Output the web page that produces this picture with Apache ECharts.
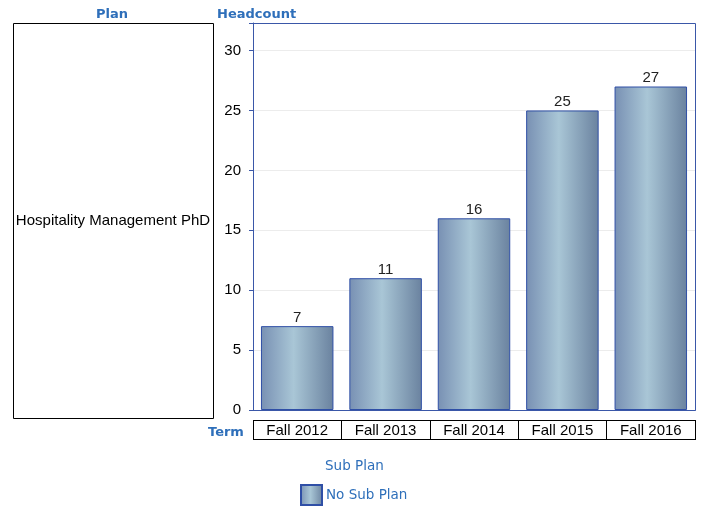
<!DOCTYPE html>
<html><head><meta charset="utf-8">
<script src="https://cdn.jsdelivr.net/npm/echarts@6/dist/echarts.min.js"></script>
<style>html,body{margin:0;padding:0;background:#fff}#c{width:703px;height:508px}</style>
</head><body><div id="c"></div>
<script>
const terms = ['Fall 2012','Fall 2013','Fall 2014','Fall 2015','Fall 2016'];
const headcount = [7, 11, 16, 25, 27];
const planName = 'Hospitality Management PhD';
const seriesName = 'No Sub Plan';

const blue = '#2e6fba';
const axisBlue = '#3a57a8';
const barGrad = new echarts.graphic.LinearGradient(0,0,1,0,[
  {offset:0,color:'#7890b3'},
  {offset:0.45,color:'#a9c6d6'},
  {offset:1,color:'#6a829f'}
]);
const chart = echarts.init(document.getElementById('c'));
chart.setOption({
  animation:false,
  title:[
    {text:'Plan',left:91,top:3,padding:5,textStyle:{fontFamily:'DejaVu Sans',fontSize:13,fontWeight:'bold',color:blue}},
    {text:'Headcount',left:212,top:3,padding:5,textStyle:{fontFamily:'DejaVu Sans',fontSize:13,fontWeight:'bold',color:blue}},
    {text:'Term',left:203,top:421,padding:5,textStyle:{fontFamily:'DejaVu Sans',fontSize:13,fontWeight:'bold',color:blue}},
    {text:'Sub Plan',left:320,top:454,padding:5,textStyle:{fontFamily:'DejaVu Sans',fontSize:13.5,fontWeight:'normal',color:blue}}
  ],
  grid:[
    {left:253,top:23,width:442,height:387,show:false},
    {left:253,top:420,width:442,height:20,show:false}
  ],
  legend:{data:[{name:seriesName,icon:'rect'}],left:300,top:484,padding:0,itemWidth:21,itemHeight:20,itemGap:4,
    textStyle:{fontFamily:'DejaVu Sans',fontSize:13.5,color:blue,padding:[0,0,0,-1]}},
  xAxis:[
    {type:'category',data:terms,gridIndex:0,axisLine:{lineStyle:{color:axisBlue}},axisTick:{show:false},
     axisLabel:{margin:13,fontFamily:'Liberation Sans',fontSize:15,color:'#000'}},
    {type:'category',data:terms,gridIndex:1,axisLine:{show:false},axisTick:{show:false},axisLabel:{show:false},
     splitLine:{show:true,lineStyle:{color:'#000',width:1}}}
  ],
  yAxis:[
    {type:'value',gridIndex:0,min:0,max:32.3,interval:5,
     axisLine:{show:true,lineStyle:{color:axisBlue}},axisTick:{show:true,length:4,lineStyle:{color:axisBlue}},
     axisLabel:{margin:12,fontFamily:'Liberation Sans',fontSize:15,color:'#000',formatter:v=>(v%5===0?String(v):'')},
     splitLine:{lineStyle:{color:'#ececec'}}},
    {type:'value',gridIndex:1,show:false}
  ],
  series:[{name:seriesName,type:'bar',data:headcount,barCategoryGap:'18%',
    itemStyle:{color:barGrad,borderColor:'#2f4fa6',borderWidth:1},
    label:{show:true,position:'top',distance:1,fontFamily:'Liberation Sans',fontSize:15,color:'#222'}}],
  graphic:[
    {type:'rect',z:-1,shape:{x:13.5,y:23.5,width:200,height:395},style:{fill:'#fff',stroke:'#000',lineWidth:1}},
    {type:'text',z:10,x:113,y:221,style:{text:planName,fontFamily:'Liberation Sans',fontSize:15,fill:'#000',align:'center',verticalAlign:'middle'}},
    {type:'rect',z:10,shape:{x:253.5,y:23.5,width:442,height:387},style:{fill:'none',stroke:axisBlue,lineWidth:1}},
    {type:'rect',z:10,shape:{x:253.5,y:420.5,width:442,height:19},style:{fill:'none',stroke:'#000',lineWidth:1}}
  ]
});
</script></body></html>
